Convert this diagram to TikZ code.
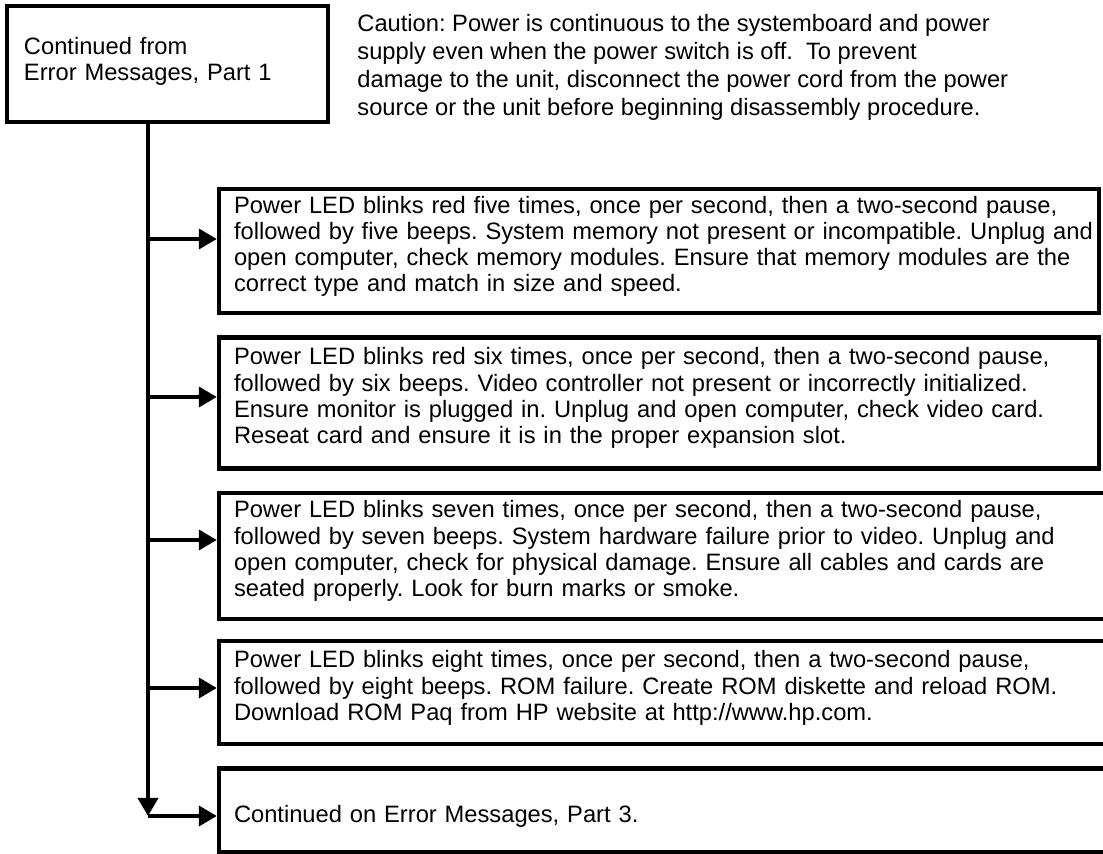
\documentclass[tikz,border=0pt]{standalone}
\usepackage{fontspec}
\setmainfont{Liberation Sans}
\usetikzlibrary{arrows.meta, positioning}
\frenchspacing

\begin{document}
\begin{tikzpicture}[
    x=0.5pt, y=-0.5pt,
    node distance=10pt,
    box/.style={draw, rectangle, line width=2.2pt, align=left, inner xsep=7.5pt, inner ysep=0pt, text height=3.8pt, font=\fontsize{11.85}{13.1}\selectfont},
    note/.style={align=left, inner sep=0pt, anchor=north west, font=\fontsize{11.85}{14}\selectfont},
    arrow/.style={-{Triangle[length=9pt, width=10pt]}, line width=1.9pt}
]
\useasboundingbox (0,0) rectangle (1103,854);
\clip (0,0) rectangle (1103,854);

% Entry and caution
\node[box, inner xsep=8.5pt, text height=6.3pt, text width=143.5pt, minimum height=58pt] (start) at (167.5,64) {Continued from\\Error Messages, Part 1};
\node[note] (caution) at (357,13.5) {Caution: Power is continuous to the systemboard and power\\supply even when the power switch is off.\ \ To prevent\\damage to the unit, disconnect the power cord from the power\\source or the unit before beginning disassembly procedure.};

% Beep codes
\node[box, text width=425pt, minimum height=62pt] (five) at (659,251) {Power LED blinks red five times, once per second, then a two-second pause,\\\mbox{followed by five beeps. System memory not present or incompatible. Unplug and}\\open computer, check memory modules. Ensure that memory modules are the\\correct type and match in size and speed.};
\node[box, text width=425pt, minimum height=65.5pt, below=10pt of five.south west, anchor=north west] (six) {Power LED blinks red six times, once per second, then a two-second pause,\\followed by six beeps. Video controller not present or incorrectly initialized.\\Ensure monitor is plugged in. Unplug and open computer, check video card.\\Reseat card and ensure it is in the proper expansion slot.};
\node[box, text width=431.5pt, minimum height=63pt, below=10pt of six.south west, anchor=north west] (seven) {Power LED blinks seven times, once per second, then a two-second pause,\\followed by seven beeps. System hardware failure prior to video. Unplug and\\open computer, check for physical damage. Ensure all cables and cards are\\seated properly. Look for burn marks or smoke.};
\node[box, text width=431.5pt, minimum height=51.5pt, below=9pt of seven.south west, anchor=north west] (eight) {Power LED blinks eight times, once per second, then a two-second pause,\\followed by eight beeps. ROM failure. Create ROM diskette and reload ROM.\\Download ROM Paq from HP website at http://www.hp.com.};
\node[box, text width=431.5pt, minimum height=42pt, text depth=2.5pt, text height=14pt, below=10pt of eight.south west, anchor=north west] (part3) {Continued on Error Messages, Part 3.};

% Connections
\coordinate (a1) at (148,239);
\coordinate (a2) at (148,397);
\coordinate (a3) at (148,540);
\coordinate (a4) at (148,688);
\coordinate (a5) at (148,816);
\draw[arrow] (start.south -| a1) -- (a5);
\draw[arrow] (a1) -- (a1 -| five.west);
\draw[arrow] (a2) -- (a2 -| six.west);
\draw[arrow] (a3) -- (a3 -| seven.west);
\draw[arrow] (a4) -- (a4 -| eight.west);
\draw[arrow] (a5) -- (a5 -| part3.west);

\end{tikzpicture}
\end{document}
